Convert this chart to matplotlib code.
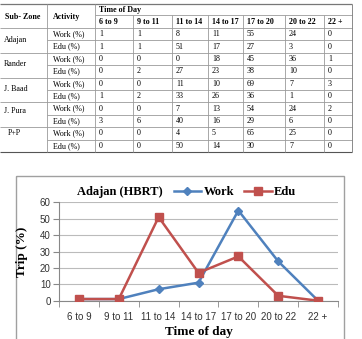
import numpy as np
import matplotlib.pyplot as plt
from matplotlib.patches import Rectangle

# table data
zones = ["Adajan", "Rander", "J. Baad", "J. Pura", "P+P"]
activities = ["Work (%)", "Edu (%)"]
times = ["6 to 9", "9 to 11", "11 to 14", "14 to 17", "17 to 20", "20 to 22", "22 +"]
table_vals = [
    [1, 1, 8, 11, 55, 24, 0],
    [1, 1, 51, 17, 27, 3, 0],
    [0, 0, 0, 18, 45, 36, 1],
    [0, 2, 27, 23, 38, 10, 0],
    [0, 0, 11, 10, 69, 7, 3],
    [1, 2, 33, 26, 36, 1, 0],
    [0, 0, 7, 13, 54, 24, 2],
    [3, 6, 40, 16, 29, 6, 0],
    [0, 0, 4, 5, 65, 25, 0],
    [0, 0, 50, 14, 30, 7, 0],
]

# chart data (Adajan)
work = [1, 1, 7, 11, 55, 24, 0]
edu = [1, 1, 51, 17, 27, 3, 0]

W, H = 362, 339
fig = plt.figure(figsize=(W / 100, H / 100), dpi=100)

# ---- table drawn in pixel coords
tax = fig.add_axes([0, 0, 1, 1])
tax.set_xlim(0, W)
tax.set_ylim(H, 0)
tax.axis("off")

col_edges = [0, 47, 95, 133, 172, 208, 243, 285, 324, 352]
top, h1, h2 = 4, 15, 28
row_h = 12.4
row_edges = [h2 + row_h * i for i in range(11)]
lc = "#9a9a9a"
serif = "Liberation Serif"
fs = 5.8

tax.hlines(top, 0, col_edges[-1], color="#777777", lw=0.9)
tax.hlines(h1, col_edges[2], col_edges[-1], color=lc, lw=0.6)
tax.hlines(h2, 0, col_edges[-1], color=lc, lw=0.6)
for i, y in enumerate(row_edges[1:]):
    x0 = 0 if (i % 2 == 1) else col_edges[1]
    c = "#555555" if i == 9 else lc
    tax.hlines(y, x0, col_edges[-1], color=c, lw=0.8 if i == 9 else 0.6)
for j, x in enumerate(col_edges[1:]):
    y0 = h1 if 3 <= j + 1 <= 8 else top
    tax.vlines(x, y0, row_edges[-1], color=lc if j + 1 < 9 else "#777777", lw=0.6)

tax.text(5, 17, "Sub- Zone", fontsize=fs, fontweight="bold", family=serif, va="center")
tax.text(53, 17, "Activity", fontsize=fs, fontweight="bold", family=serif, va="center")
tax.text(99, 9.5, "Time of Day", fontsize=fs, fontweight="bold", family=serif, va="center")
for j, t in enumerate(times):
    tax.text(col_edges[j + 2] + 4, 21.5, t, fontsize=fs, fontweight="bold",
             family=serif, va="center")

zone_y = [40, 64, 89, 111, 133]
for k, z in enumerate(zones):
    tax.text(8 if z == "P+P" else 4, zone_y[k], z, fontsize=fs, family=serif, va="center")
for i, row in enumerate(table_vals):
    yc = row_edges[i] + row_h / 2
    tax.text(col_edges[1] + 6, yc, activities[i % 2], fontsize=fs, family=serif, va="center")
    for j, v in enumerate(row):
        tax.text(col_edges[j + 2] + 4, yc, str(v), fontsize=fs, family=serif, va="center")

# chart frame
tax.add_patch(Rectangle((15.5, 175.5), 328, 180, fill=False, ec="#a0a0a0", lw=1))

# ---- line chart
ax = fig.add_axes([59 / W, 1 - 300.7 / H, 279 / W, 98.4 / H])
x = np.arange(len(times))
ax.plot(x, work, color="#4F81BD", lw=1.8, marker="D", ms=4.5, label="Work", zorder=3)
ax.plot(x, edu, color="#C0504D", lw=1.8, marker="s", ms=6, label="Edu", zorder=3)

ax.set_xlim(-0.5, len(times) - 0.5)
ax.set_ylim(0, 60)
ax.set_yticks(range(0, 61, 10))
ax.set_xticks(x)
ax.set_xticklabels(times, family="Liberation Sans", fontsize=7, color="#333333")
ax.set_xticks(np.arange(-0.5, len(times), 1), minor=True)
ax.tick_params(axis="x", which="major", length=0, pad=8)
ax.tick_params(axis="x", which="minor", length=4, color="#888888")
ax.tick_params(axis="y", length=4, color="#888888", pad=2)
for lab in ax.get_yticklabels():
    lab.set_family("Liberation Sans")
    lab.set_fontsize(7)
    lab.set_color("#333333")
ax.grid(axis="y", color="#bbbbbb", lw=0.8)
ax.set_axisbelow(True)
for s in ["top", "right"]:
    ax.spines[s].set_visible(False)
for s in ["left", "bottom"]:
    ax.spines[s].set_color("#888888")

ax.set_ylabel("Trip (%)", family=serif, fontweight="bold", fontsize=9.5)
ax.yaxis.set_label_coords(-0.111, 0.5)
ax.set_xlabel("Time of day", family=serif, fontweight="bold", fontsize=9.5)
ax.xaxis.set_label_coords(0.5, -0.255)

fig.text(77 / W, 1 - 192 / H, "Adajan (HBRT)", family=serif, fontweight="bold",
         fontsize=9, va="center")
ax.legend(loc="center left", bbox_to_anchor=(166 / W, 1 - 192 / H),
          bbox_transform=fig.transFigure, ncol=2, frameon=False,
          prop={"family": serif, "weight": "bold", "size": 9},
          handlelength=2.2, handletextpad=0.2, columnspacing=0.8, borderpad=0.1)

fig.savefig("out.png", dpi=100)
